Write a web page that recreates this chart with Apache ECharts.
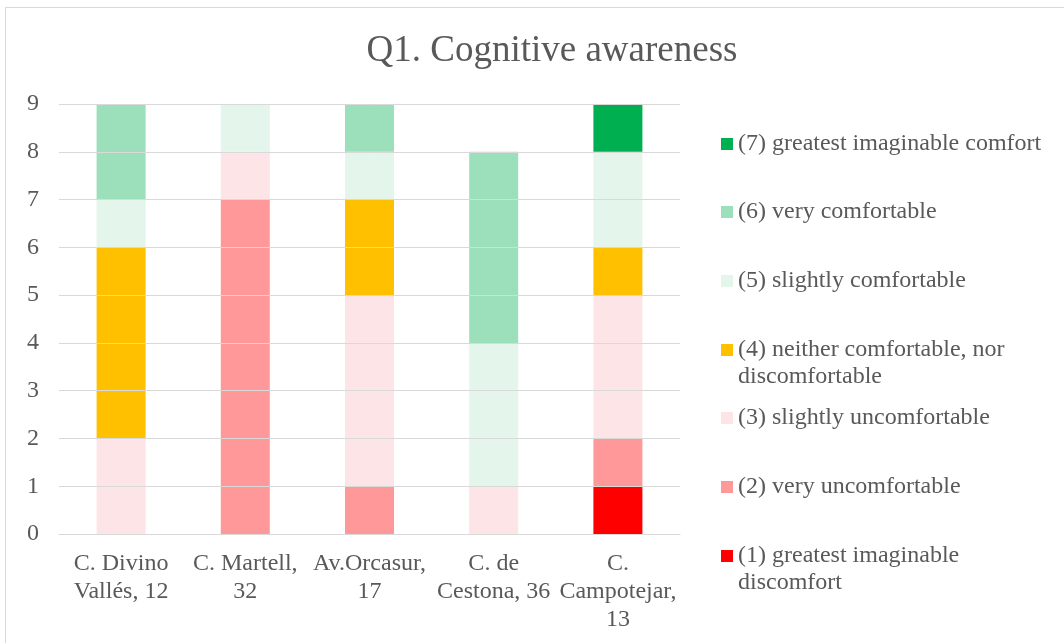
<!DOCTYPE html>
<html lang="en">
<head>
    <meta charset="UTF-8">
    <title>Q1. Cognitive awareness</title>
    <script src="https://cdn.jsdelivr.net/npm/echarts@6/dist/echarts.min.js"></script>
    <style>
        html, body { margin: 0; padding: 0; background: #fff; }
    </style>
</head>
<body>
    <div id="main" style="width:1064px;height:643px;"></div>
    <div style="position:absolute;left:5px;top:7px;width:1070px;height:650px;border:1px solid #d9d9d9;pointer-events:none"></div>
<script>
    // categories (streets) and answers per comfort level
    let categories = ['C. Divino\nVallés, 12', 'C. Martell,\n32', 'Av.Orcasur,\n17', 'C. de\nCestona, 36', 'C.\nCampotejar,\n13'];
    let levelNames = [
        '(1) greatest imaginable discomfort',
        '(2) very uncomfortable',
        '(3) slightly uncomfortable',
        '(4) neither comfortable, nor discomfortable',
        '(5) slightly comfortable',
        '(6) very comfortable',
        '(7) greatest imaginable comfort'
    ];
    let level1 = [0, 0, 0, 0, 1];
    let level2 = [0, 7, 1, 0, 1];
    let level3 = [2, 1, 4, 1, 3];
    let level4 = [4, 0, 2, 0, 1];
    let level5 = [1, 1, 1, 3, 2];
    let level6 = [2, 0, 1, 4, 0];
    let level7 = [0, 0, 0, 0, 1];
    let yTicks = [0, 1, 2, 3, 4, 5, 6, 7, 8, 9];

    let levelData = [level1, level2, level3, level4, level5, level6, level7];
    let colors = ['#ff0000', '#ff9999', '#fde4e6', '#ffc000', '#e4f5eb', '#9bdfbb', '#00b050'];
    // legend label wrapping, as in the original (leading blank line keeps the icon on line one)
    let legendText = {
        '(1) greatest imaginable discomfort': ' \n(1) greatest imaginable\ndiscomfort',
        '(4) neither comfortable, nor discomfortable': ' \n(4) neither comfortable, nor\ndiscomfortable'
    };
    let legendCenters = [556, 487, 418, 350, 281, 212, 144];

    let font = '"Liberation Serif", "Times New Roman", serif';
    let textColor = '#595959';
    let lh = 27;

    let myChart = echarts.init(document.getElementById('main'));

    let seriesConfig = levelData.map(function(arr, idx) {
        return {
            name: levelNames[idx],
            type: 'bar',
            stack: 'total',
            barWidth: 49,
            data: arr,
            itemStyle: { color: colors[idx] }
        };
    });

    let legendConfig = levelNames.map(function(name, idx) {
        let twoLines = !!legendText[name];
        return {
            data: [{ name: name, icon: 'rect' }],
            left: 721,
            top: twoLines ? legendCenters[idx] - lh * 1.5 : legendCenters[idx] - lh / 2,
            padding: 0,
            itemWidth: 12,
            itemHeight: 12,
            itemGap: 5,
            selectedMode: false,
            formatter: function(n) {
                return legendText[n] || n;
            },
            textStyle: {
                fontFamily: font,
                fontSize: 24,
                color: textColor,
                lineHeight: lh
            }
        };
    });

    myChart.setOption({
        animation: false,
        title: {
            text: 'Q1. Cognitive awareness',
            left: 552,
            top: 33,
            textAlign: 'center',
            padding: 0,
            textStyle: {
                fontFamily: font,
                fontSize: 37,
                fontWeight: 'normal',
                color: textColor
            }
        },
        legend: legendConfig,
        grid: {
            left: 59,
            right: 384,
            top: 104,
            bottom: 109
        },
        xAxis: {
            type: 'category',
            data: categories,
            axisTick: { show: false },
            axisLine: { lineStyle: { color: '#d9d9d9', width: 1 } },
            axisLabel: {
                fontFamily: font,
                fontSize: 24,
                color: textColor,
                lineHeight: 28,
                margin: 16,
                interval: 0
            }
        },
        yAxis: {
            type: 'value',
            min: yTicks[0],
            max: yTicks[yTicks.length - 1],
            interval: 1,
            z: 3,
            splitLine: { lineStyle: { color: '#d9d9d9', width: 1 } },
            axisLabel: {
                fontFamily: font,
                fontSize: 24,
                color: textColor,
                margin: 20
            }
        },
        series: seriesConfig
    });
</script>
</body>
</html>
